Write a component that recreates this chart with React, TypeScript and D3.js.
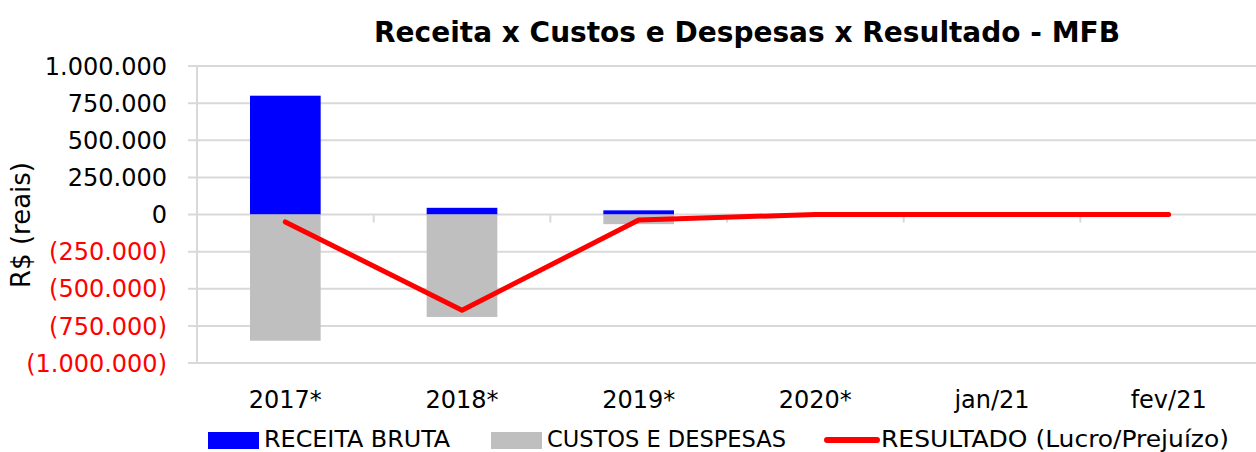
import React from "react";
import * as d3 from "d3";

const categories = ["2017*", "2018*", "2019*", "2020*", "jan/21", "fev/21"];
const receitaBruta = [800000, 45000, 28000, 0, 0, 0];
const custosDespesas = [-850000, -690000, -65000, 0, 0, 0];
const resultado = [-50000, -645000, -37000, 0, 0, 0];
const yTicks = [1000000, 750000, 500000, 250000, 0, -250000, -500000, -750000, -1000000];

const W = 1256;
const H = 452;
const left = 197;
const right = 1257;
const top = 66;
const bottom = 363;

const fmt = (v: number) => {
  const s = d3.format(",.0f")(Math.abs(v)).replace(/,/g, ".");
  return v < 0 ? `(${s})` : s;
};

export default function App() {
  const x = d3.scaleBand<string>().domain(categories).range([left, right]).paddingInner(0.6).paddingOuter(0.3);
  const xb = d3.scaleBand<string>().domain(categories).range([left, right]);
  const y = d3.scaleLinear().domain([-1000000, 1000000]).range([bottom, top]);
  const line = d3
    .line<number>()
    .x((_, i) => (xb(categories[i]) as number) + xb.bandwidth() / 2)
    .y((d) => y(d));
  const font = "'DejaVu Sans', sans-serif";
  const grid = "#d9d9d9";
  return (
    <svg width={W} height={H} style={{ position: "absolute", left: 0, top: 0, background: "#fff" }}>
      <text x={747} y={42} textAnchor="middle" fontFamily={font} fontWeight="bold" fontSize={28}>
        Receita x Custos e Despesas x Resultado - MFB
      </text>
      {yTicks.map((t) => (
        <g key={t}>
          <line x1={188} x2={right} y1={y(t)} y2={y(t)} stroke={grid} strokeWidth={2} />
          <text
            x={167}
            y={y(t)}
            dy="0.36em"
            textAnchor="end"
            fontFamily={font}
            fontSize={24}
            fill={t < 0 ? "#ff0000" : "#000"}
          >
            {fmt(t)}
          </text>
        </g>
      ))}
      <line x1={left} x2={left} y1={top} y2={bottom} stroke={grid} strokeWidth={2} />
      {categories.map((c) => (
        <line key={c} x1={(xb(c) as number) + xb.bandwidth()} x2={(xb(c) as number) + xb.bandwidth()} y1={y(0)} y2={y(0) + 8} stroke={grid} strokeWidth={2} />
      ))}
      <text transform={`translate(30,225) rotate(-90)`} textAnchor="middle" fontFamily={font} fontSize={26}>
        R$ (reais)
      </text>
      {categories.map((c, i) => (
        <g key={c}>
          <rect x={x(c)} width={x.bandwidth()} y={y(receitaBruta[i])} height={y(0) - y(receitaBruta[i])} fill="#0000ff" />
          <rect x={x(c)} width={x.bandwidth()} y={y(0)} height={y(custosDespesas[i]) - y(0)} fill="#bfbfbf" />
          <text
            x={(xb(c) as number) + xb.bandwidth() / 2}
            y={408}
            textAnchor="middle"
            fontFamily={font}
            fontSize={24}
          >
            {c}
          </text>
        </g>
      ))}
      <path d={line(resultado) || ""} fill="none" stroke="#ff0000" strokeWidth={5} strokeLinecap="round" strokeLinejoin="round" />
      <g fontFamily={font} fontStretch="condensed" fontSize={23}>
        <rect x={208} y={432} width={51} height={17} fill="#0000ff" />
        <text x={264} y={447} textLength={186} lengthAdjust="spacingAndGlyphs">RECEITA BRUTA</text>
        <rect x={491} y={432} width={51} height={17} fill="#bfbfbf" />
        <text x={547} y={447} textLength={239} lengthAdjust="spacingAndGlyphs">CUSTOS E DESPESAS</text>
        <line x1={827} x2={877} y1={440} y2={440} stroke="#ff0000" strokeWidth={6} strokeLinecap="round" />
        <text x={881} y={447} textLength={348} lengthAdjust="spacingAndGlyphs">RESULTADO (Lucro/Prejuízo)</text>
      </g>
    </svg>
  );
}
